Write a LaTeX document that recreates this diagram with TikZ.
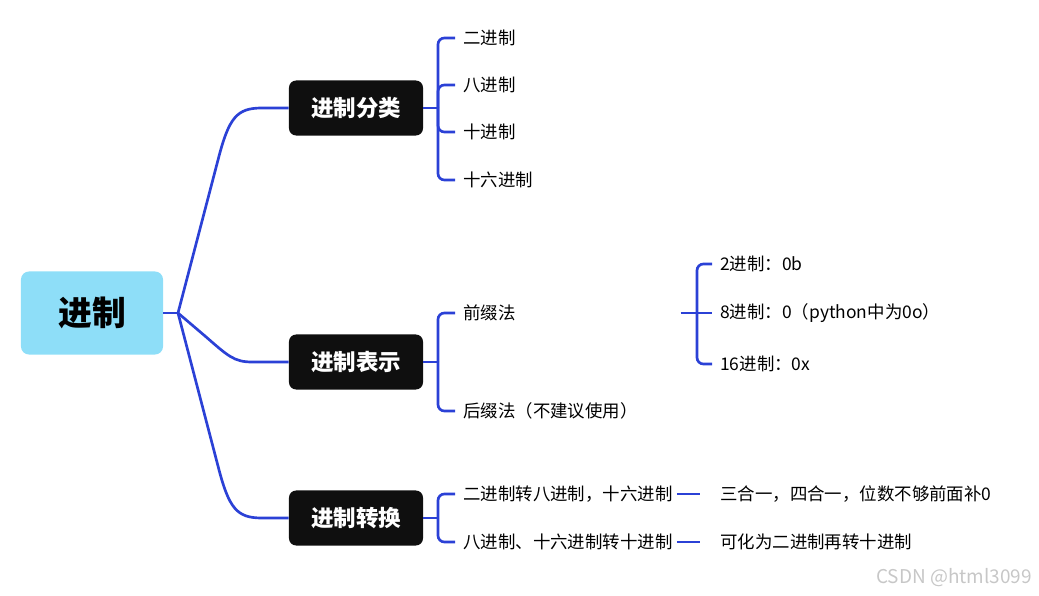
\documentclass[tikz,border=0pt]{standalone}
\usepackage{fontspec}
\setmainfont{Noto Sans CJK SC}
\usetikzlibrary{positioning}

\definecolor{linkblue}{RGB}{43,65,214}
\definecolor{rootblue}{RGB}{142,222,248}
\definecolor{topicblack}{RGB}{15,15,15}

\tikzset{
    link/.style={draw=linkblue, line width=1.9pt},
    fork/.style={link, rounded corners=0.16cm},
    rootbox/.style={fill=rootblue, rounded corners=0.2cm, minimum width=3.55cm, minimum height=2.075cm, font=\fontsize{24}{28}\selectfont\bfseries},
    topic/.style={fill=topicblack, text=white, rounded corners=0.18cm, minimum width=3.35cm, minimum height=1.375cm, font=\fontsize{16}{19}\selectfont\bfseries},
    leaf/.style={anchor=west, inner xsep=0.2cm, inner ysep=2pt, font=\fontsize{12.4}{15}\selectfont},
}

\begin{document}
\begin{tikzpicture}[x=0.025cm, y=-0.025cm]
    \useasboundingbox (0,0) rectangle (1039,596);
    % root and main topics
    \node[rootbox] (root) at (92,313) {进制};
    \node[topic] (kind) at (356,108) {进制分类};
    \node[topic] (form) at (356,362) {进制表示};
    \node[topic] (conv) at (356,518) {进制转换};
    \coordinate (hub) at (178,313);
    \draw[link] (root.east) -- (hub);
    \draw[link] (hub) -- (218,160) .. controls (229,117) and (237,108) .. (262,108) -- (kind.west);
    \draw[link] (hub) -- (205,336) .. controls (228,356) and (234,362) .. (252,362) -- (form.west);
    \draw[link] (hub) -- (218,466) .. controls (229,509) and (237,518) .. (262,518) -- (conv.west);

    % 进制分类
    \node[leaf] (bin) at (455,38) {二进制};
    \node[leaf] (oct) at (455,85) {八进制};
    \node[leaf] (dec) at (455,132) {十进制};
    \node[leaf] (hex) at (455,180) {十六进制};
    \coordinate (kindfork) at (438,108);
    \draw[link] (kind.east) -- (kindfork);
    \draw[fork] (kindfork) |- (bin.west);
    \draw[fork] (kindfork) |- (oct.west);
    \draw[fork] (kindfork) |- (dec.west);
    \draw[fork] (kindfork) |- (hex.west);

    % 进制表示
    \node[leaf, text width=5.225cm, align=left] (pre) at (455,313) {前缀法};
    \node[leaf] (post) at (455,411) {后缀法（不建议使用）};
    \coordinate (formfork) at (438,362);
    \draw[link] (form.east) -- (formfork);
    \draw[fork] (formfork) |- (pre.west);
    \draw[fork] (formfork) |- (post.west);
    \node[leaf] (pbin) at (712,264) {2进制：0b};
    \node[leaf] (poct) at (712,313) {8进制：0（python中为0o）};
    \node[leaf] (phex) at (712,364) {16进制：0x};
    \coordinate (prefork) at (697,313);
    \draw[link] (pre.east) -- (prefork);
    \draw[fork] (prefork) |- (pbin.west);
    \draw[link] (prefork) -- (poct.west);
    \draw[fork] (prefork) |- (phex.west);

    % 进制转换
    \node[leaf] (c2) at (455,494) {二进制转八进制，十六进制};
    \node[leaf] (c10) at (455,542) {八进制、十六进制转十进制};
    \coordinate (convfork) at (438,518);
    \draw[link] (conv.east) -- (convfork);
    \draw[fork] (convfork) |- (c2.west);
    \draw[fork] (convfork) |- (c10.west);
    \node[leaf] (c2note) at (712,494) {三合一，四合一，位数不够前面补0};
    \node[leaf] (c10note) at (712,542) {可化为二进制再转十进制};
    \draw[link, shorten <=-0.1cm, shorten >=0.3cm] (c2.east) -- (c2note.west);
    \draw[link, shorten <=-0.1cm, shorten >=0.3cm] (c10.east) -- (c10note.west);

    \node[anchor=east, text=black!22, font=\fontsize{13.5}{15}\selectfont] (mark) at (1037,578) {CSDN @html3099};
\end{tikzpicture}
\end{document}
